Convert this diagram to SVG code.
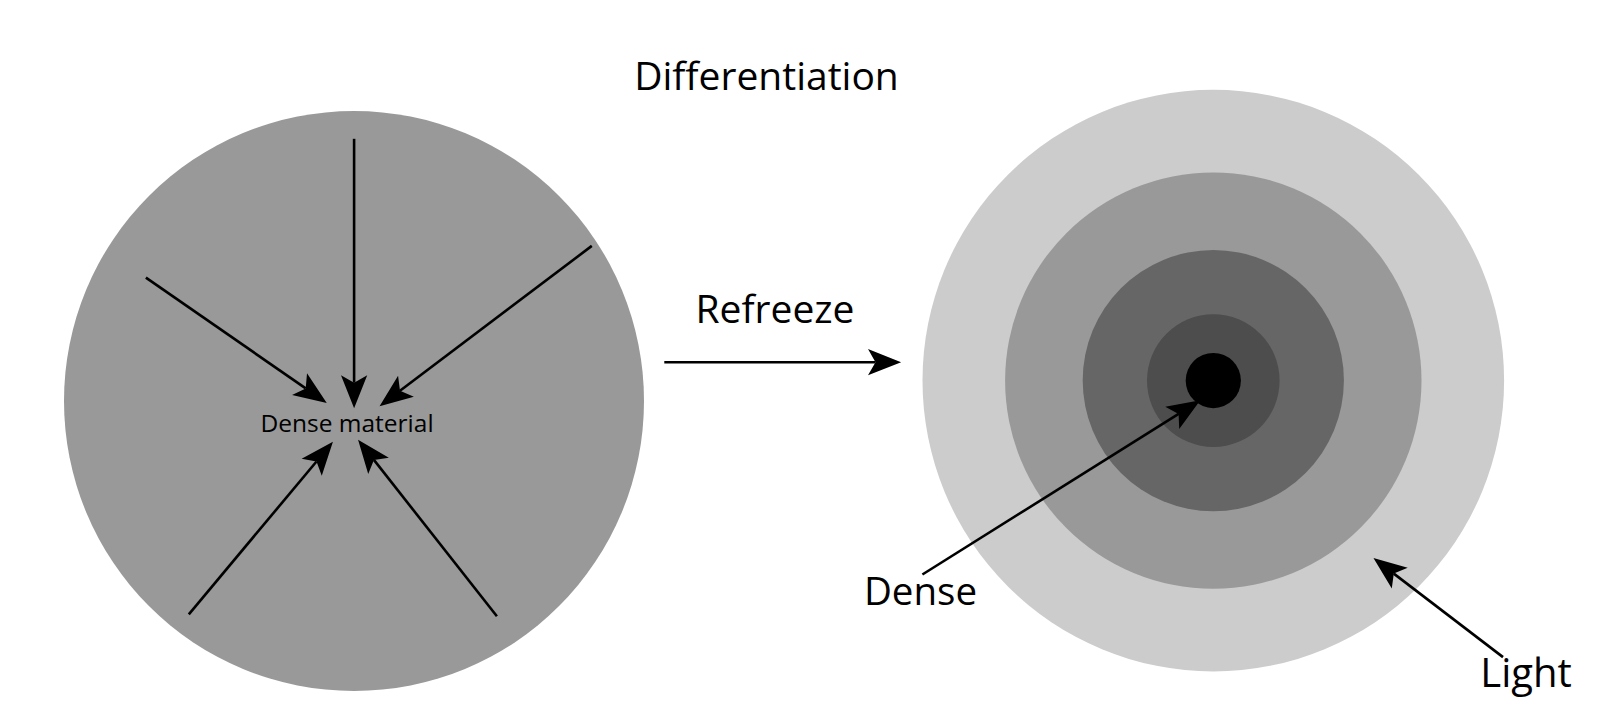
<svg xmlns="http://www.w3.org/2000/svg" width="1600" height="717" viewBox="0 0 1600 717">
<style>
.t{font-family:"Open Sans","Noto Sans","Liberation Sans",sans-serif;fill:#000}
.c{stroke:#000;stroke-width:2.6;fill:none;marker-end:url(#ah)}
</style>
<defs>
<marker id="ah" markerUnits="userSpaceOnUse" markerWidth="40" markerHeight="30" viewBox="-8 -12 30 24" refX="0" refY="0" orient="auto">
<path d="M-6,-10.5 L20.5,0 L-6,10.5 L0,0 Z" fill="#000"/>
</marker>
</defs>
<rect width="1600" height="717" fill="#fff"/>
<g id="title"><text class="t" x="766.5" y="90" font-size="39" text-anchor="middle">Differentiation</text></g>
<g id="left-body">
<circle cx="354" cy="401" r="290" fill="#999"/>
<text class="t" x="347" y="432" font-size="24.5" text-anchor="middle">Dense material</text>
</g>
<g id="refreeze"><text class="t" x="775" y="323" font-size="39" text-anchor="middle">Refreeze</text></g>
<g id="right-body">
<circle cx="1213.3" cy="380.6" r="290.8" fill="#ccc"/>
<circle cx="1213.3" cy="380.6" r="208.2" fill="#999"/>
<circle cx="1213.3" cy="380.6" r="130.6" fill="#666"/>
<circle cx="1213.3" cy="380.6" r="66.3" fill="#4d4d4d"/>
<circle cx="1213.3" cy="380.6" r="27.6" fill="#000"/>
</g>
<g id="label-dense"><text class="t" x="920.5" y="605" font-size="38.5" text-anchor="middle">Dense</text></g>
<g id="label-light"><text class="t" x="1526" y="687" font-size="40" text-anchor="middle">Light</text></g>
<g id="connectors">
<line class="c" x1="354.1" y1="138.8" x2="354.1" y2="382.7"/>
<line class="c" x1="145.9" y1="277.6" x2="305.7" y2="388.4"/>
<line class="c" x1="591.8" y1="245.9" x2="400" y2="390.8"/>
<line class="c" x1="188.8" y1="614.3" x2="316.5" y2="461.5"/>
<line class="c" x1="496.9" y1="616.3" x2="373.9" y2="459.9"/>
<line class="c" x1="664.3" y1="362.2" x2="875.5" y2="362.2"/>
<line class="c" x1="922.4" y1="574.5" x2="1178.6" y2="413.9"/>
<line class="c" x1="1503" y1="657.1" x2="1393.8" y2="573.6"/>
</g>
</svg>
